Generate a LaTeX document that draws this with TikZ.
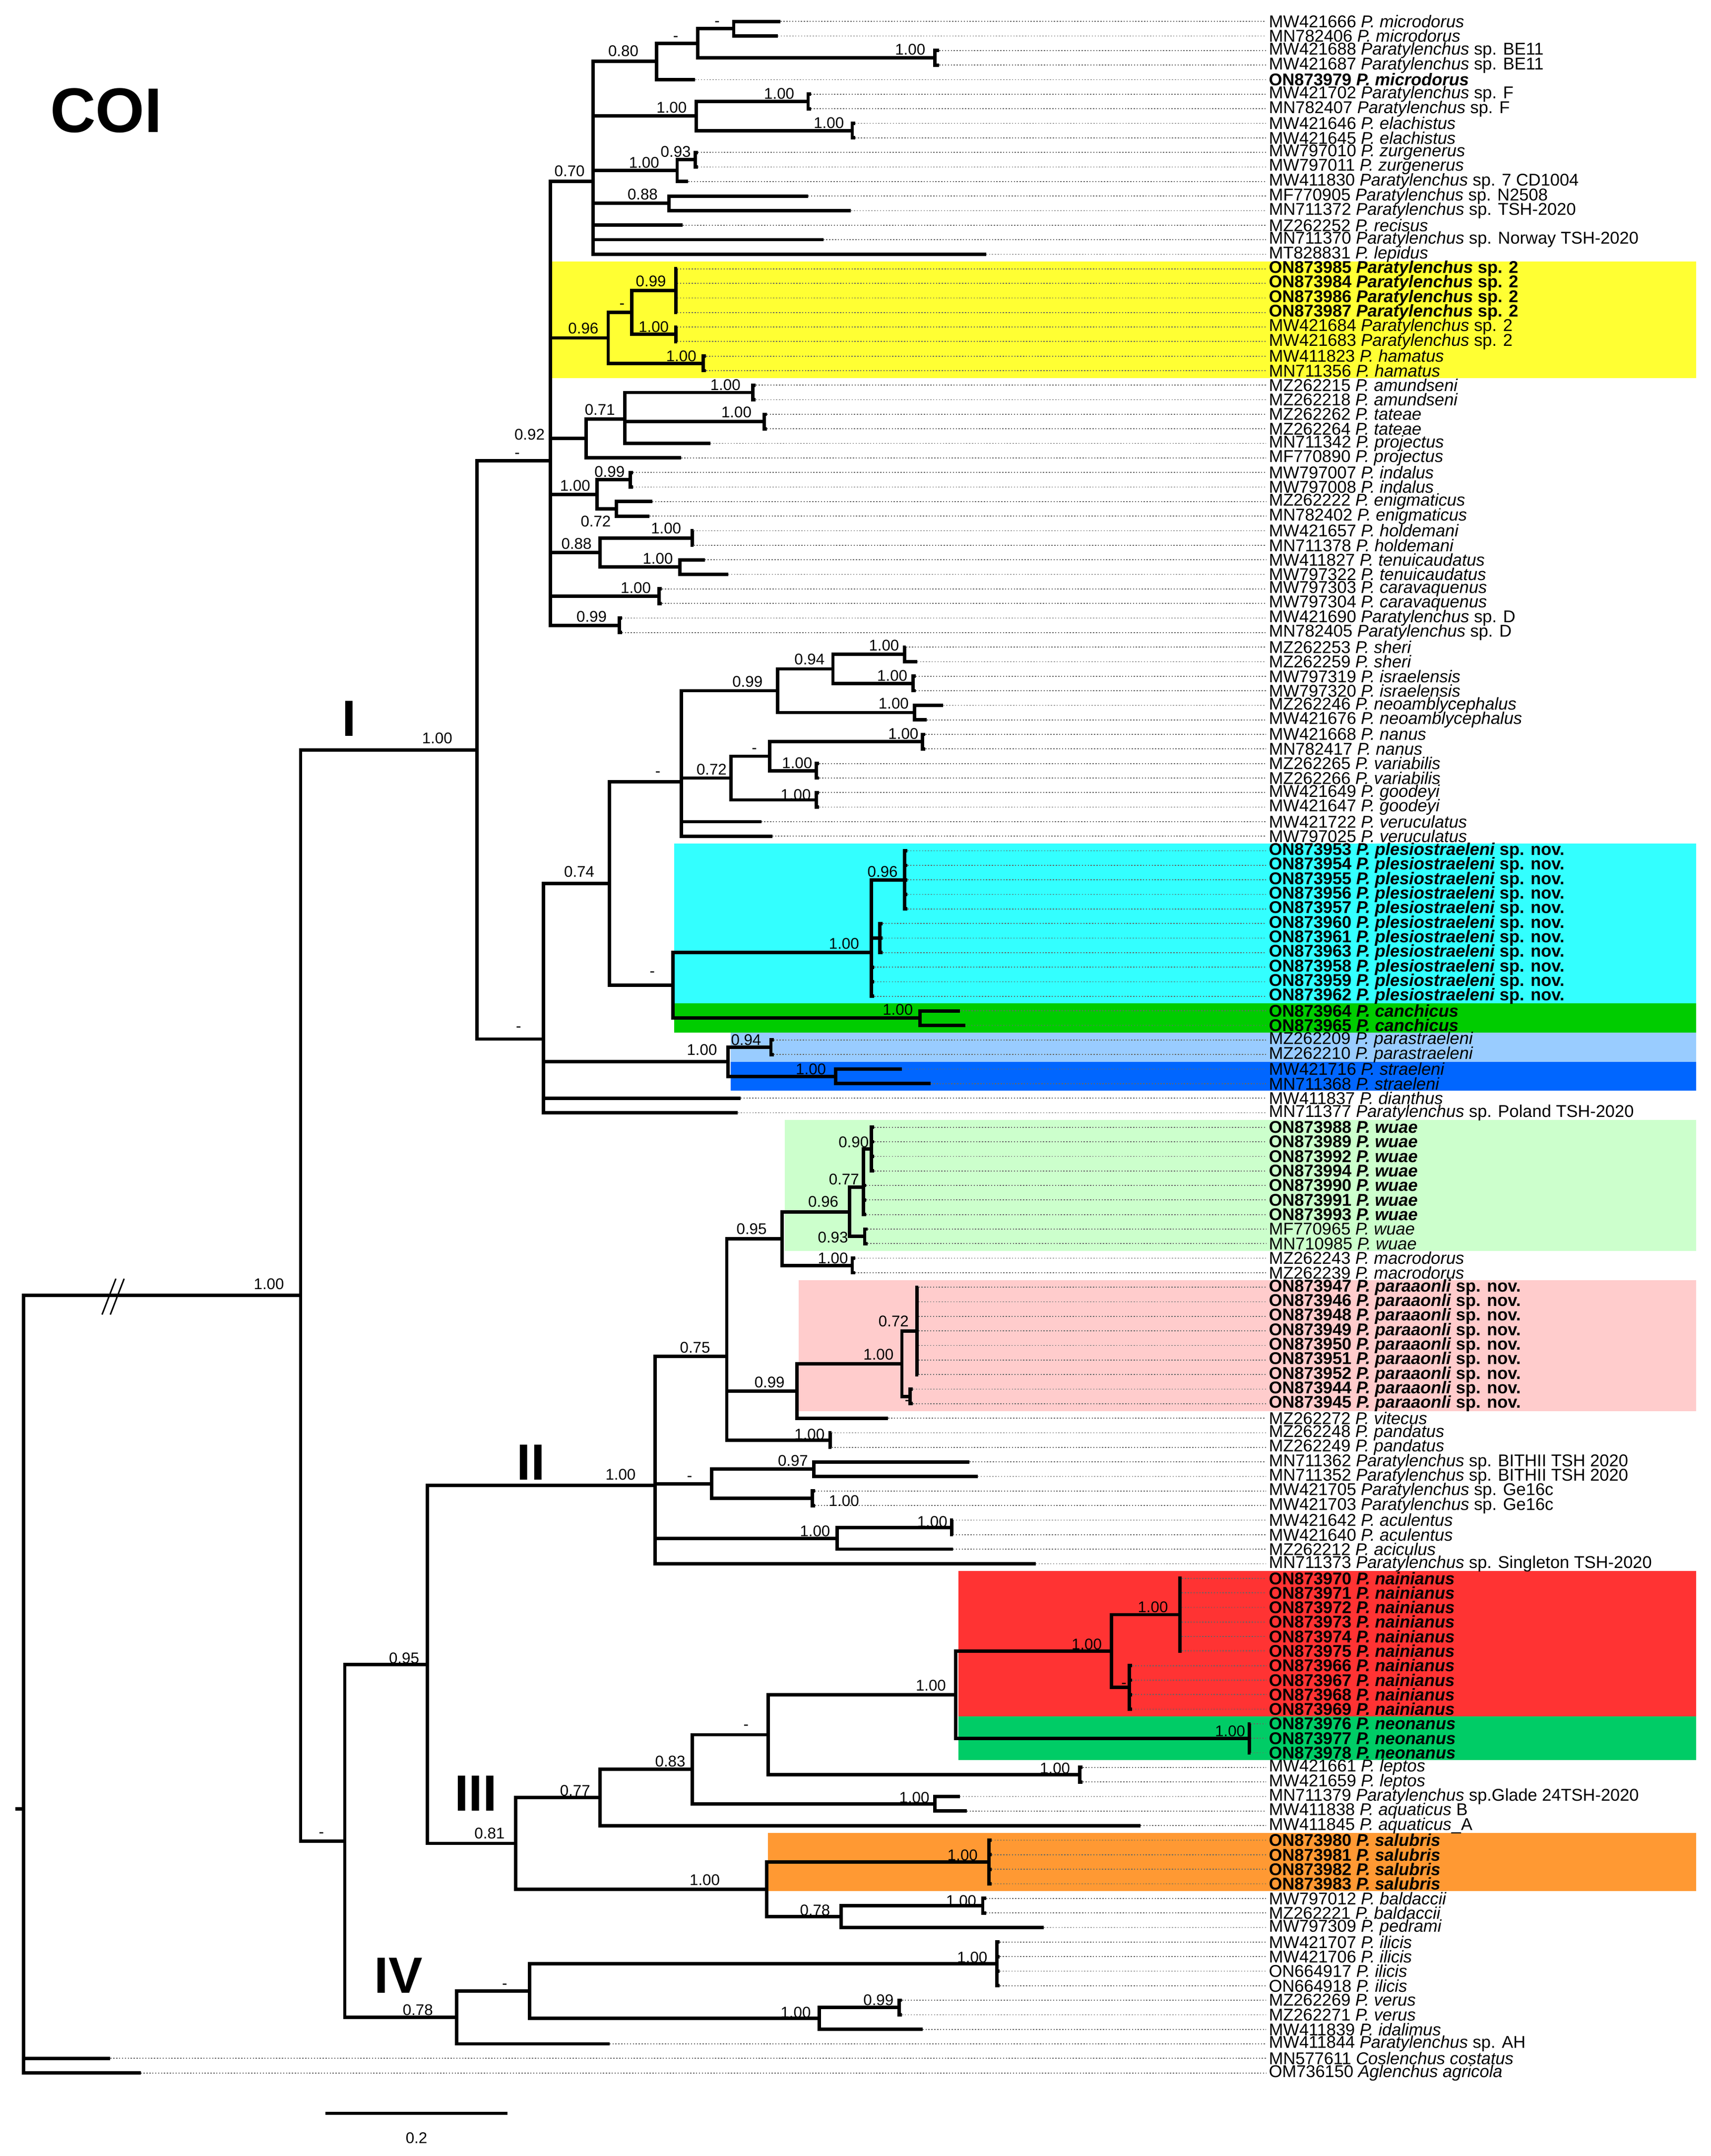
\documentclass[tikz,border=0pt]{standalone}
\usepackage{fontspec}
\setmainfont{Liberation Sans}
\begin{document}
\newcommand\Pn[1]{\textit{P. #1}}
\newcommand\Pt{\textit{Paratylenchus}}
\begin{tikzpicture}[x=0.02cm,y=-0.02cm,
  br/.style={line width=1.4pt,line join=miter},
  dot/.style={line width=0.35pt,gray!80!black,dash pattern=on 0.5pt off 0.7pt},
  lab/.style={anchor=west,inner sep=1pt,font=\fontsize{7.05}{7}\selectfont},
  sv/.style={inner sep=0pt,font=\fontsize{6.4}{7}\selectfont},
  big/.style={inner sep=0pt,font=\fontsize{21}{22}\selectfont\bfseries}]
\useasboundingbox (0,0) rectangle (1240.5,1563);
\newcommand\lf[3]{\coordinate (t#1) at (#2,#1); \node[lab] (l#1) at (918,#1) {#3}; \draw[dot] (t#1) -- (l#1.west);}
\newcommand\nd[3]{\coordinate (#1) at (#2,#3);}
\newcommand\ch[2]{\foreach \c in {#2} {\draw[br] (#1) |- (\c);}}
\newcommand\bx[4]{\fill[#4] (#1,#2-0.5) rectangle (1230,#3+0.5);}
\definecolor{cY}{HTML}{FFFF33}\definecolor{cC}{HTML}{33FFFF}\definecolor{cG}{HTML}{00CC00}
\definecolor{cLB}{HTML}{99CCFF}\definecolor{cB}{HTML}{0066FF}\definecolor{cLG}{HTML}{CCFFCC}
\definecolor{cP}{HTML}{FFCCCC}\definecolor{cR}{HTML}{FF3333}\definecolor{cN}{HTML}{00CC66}
\definecolor{cO}{HTML}{FF9933}
\begin{scope}[y=-0.2110cm,yshift=-0.1000cm]
\bx{400}{18}{25}{cY}
\bx{489}{58}{68}{cC}
\bx{489}{69}{70}{cG}
\bx{530}{71}{72}{cLB}
\bx{530}{73}{74}{cB}
\bx{569}{77}{85}{cLG}
\bx{579}{88}{96}{cP}
\bx{695}{108}{117}{cR}
\bx{695}{118}{120}{cN}
\bx{557}{126}{129}{cO}
% leaves
\lf{1}{566}{MW421666 \Pn{microdorus}}
\lf{2}{564}{MN782406 \Pn{microdorus}}
\lf{3}{681}{MW421688 \Pt{} sp. BE11}
\lf{4}{681}{MW421687 \Pt{} sp. BE11}
\lf{5}{504}{\textbf{ON873979 \Pn{microdorus}}}
\lf{6}{588}{MW421702 \Pt{} sp. F}
\lf{7}{588}{MN782407 \Pt{} sp. F}
\lf{8}{620}{MW421646 \Pn{elachistus}}
\lf{9}{620}{MW421645 \Pn{elachistus}}
\lf{10}{506}{MW797010 \Pn{zurgenerus}}
\lf{11}{506}{MW797011 \Pn{zurgenerus}}
\lf{12}{499}{MW411830 \Pt{} sp. 7 CD1004}
\lf{13}{586}{MF770905 \Pt{} sp. N2508}
\lf{14}{617}{MN711372 \Pt{} sp. TSH-2020}
\lf{15}{495}{MZ262252 \Pn{recisus}}
\lf{16}{597}{MN711370 \Pt{} sp. Norway TSH-2020}
\lf{17}{715}{MT828831 \Pn{lepidus}}
\lf{18}{491}{\textbf{ON873985 \Pt{} sp. 2}}
\lf{19}{491}{\textbf{ON873984 \Pt{} sp. 2}}
\lf{20}{491}{\textbf{ON873986 \Pt{} sp. 2}}
\lf{21}{491}{\textbf{ON873987 \Pt{} sp. 2}}
\lf{22}{491}{MW421684 \Pt{} sp. 2}
\lf{23}{491}{MW421683 \Pt{} sp. 2}
\lf{24}{512}{MW411823 \Pn{hamatus}}
\lf{25}{512}{MN711356 \Pn{hamatus}}
\lf{26}{548}{MZ262215 \Pn{amundseni}}
\lf{27}{548}{MZ262218 \Pn{amundseni}}
\lf{28}{556}{MZ262262 \Pn{tateae}}
\lf{29}{556}{MZ262264 \Pn{tateae}}
\lf{30}{515}{MN711342 \Pn{projectus}}
\lf{31}{494}{MF770890 \Pn{projectus}}
\lf{32}{459}{MW797007 \Pn{indalus}}
\lf{33}{459}{MW797008 \Pn{indalus}}
\lf{34}{473}{MZ262222 \Pn{enigmaticus}}
\lf{35}{471}{MN782402 \Pn{enigmaticus}}
\lf{36}{503}{MW421657 \Pn{holdemani}}
\lf{37}{503}{MN711378 \Pn{holdemani}}
\lf{38}{511}{MW411827 \Pn{tenuicaudatus}}
\lf{39}{528}{MW797322 \Pn{tenuicaudatus}}
\lf{40}{480}{MW797303 \Pn{caravaquenus}}
\lf{41}{480}{MW797304 \Pn{caravaquenus}}
\lf{42}{451}{MW421690 \Pt{} sp. D}
\lf{43}{451}{MN782405 \Pt{} sp. D}
\lf{44}{657}{MZ262253 \Pn{sheri}}
\lf{45}{665}{MZ262259 \Pn{sheri}}
\lf{46}{664}{MW797319 \Pn{israelensis}}
\lf{47}{664}{MW797320 \Pn{israelensis}}
\lf{48}{684}{MZ262246 \Pn{neoamblycephalus}}
\lf{49}{672}{MW421676 \Pn{neoamblycephalus}}
\lf{50}{671}{MW421668 \Pn{nanus}}
\lf{51}{671}{MN782417 \Pn{nanus}}
\lf{52}{594}{MZ262265 \Pn{variabilis}}
\lf{53}{594}{MZ262266 \Pn{variabilis}}
\lf{54}{594}{MW421649 \Pn{goodeyi}}
\lf{55}{594}{MW421647 \Pn{goodeyi}}
\lf{56}{552}{MW421722 \Pn{veruculatus}}
\lf{57}{560}{MW797025 \Pn{veruculatus}}
\lf{58}{658}{\textbf{ON873953 \Pn{plesiostraeleni} sp. nov.}}
\lf{59}{658}{\textbf{ON873954 \Pn{plesiostraeleni} sp. nov.}}
\lf{60}{658}{\textbf{ON873955 \Pn{plesiostraeleni} sp. nov.}}
\lf{61}{658}{\textbf{ON873956 \Pn{plesiostraeleni} sp. nov.}}
\lf{62}{658}{\textbf{ON873957 \Pn{plesiostraeleni} sp. nov.}}
\lf{63}{640}{\textbf{ON873960 \Pn{plesiostraeleni} sp. nov.}}
\lf{64}{640}{\textbf{ON873961 \Pn{plesiostraeleni} sp. nov.}}
\lf{65}{640}{\textbf{ON873963 \Pn{plesiostraeleni} sp. nov.}}
\lf{66}{634}{\textbf{ON873958 \Pn{plesiostraeleni} sp. nov.}}
\lf{67}{634}{\textbf{ON873959 \Pn{plesiostraeleni} sp. nov.}}
\lf{68}{634}{\textbf{ON873962 \Pn{plesiostraeleni} sp. nov.}}
\lf{69}{696}{\textbf{ON873964 \Pn{canchicus}}}
\lf{70}{700}{\textbf{ON873965 \Pn{canchicus}}}
\lf{71}{561}{MZ262209 \Pn{parastraeleni}}
\lf{72}{561}{MZ262210 \Pn{parastraeleni}}
\lf{73}{654}{MW421716 \Pn{straeleni}}
\lf{74}{675}{MN711368 \Pn{straeleni}}
\lf{75}{537}{MW411837 \Pn{dianthus}}
\lf{76}{535}{MN711377 \Pt{} sp. Poland TSH-2020}
\lf{77}{634}{\textbf{ON873988 \Pn{wuae}}}
\lf{78}{634}{\textbf{ON873989 \Pn{wuae}}}
\lf{79}{634}{\textbf{ON873992 \Pn{wuae}}}
\lf{80}{634}{\textbf{ON873994 \Pn{wuae}}}
\lf{81}{628}{\textbf{ON873990 \Pn{wuae}}}
\lf{82}{628}{\textbf{ON873991 \Pn{wuae}}}
\lf{83}{628}{\textbf{ON873993 \Pn{wuae}}}
\lf{84}{629}{MF770965 \Pn{wuae}}
\lf{85}{629}{MN710985 \Pn{wuae}}
\lf{86}{620}{MZ262243 \Pn{macrodorus}}
\lf{87}{620}{MZ262239 \Pn{macrodorus}}
\lf{88}{666}{\textbf{ON873947 \Pn{paraaonli} sp. nov.}}
\lf{89}{666}{\textbf{ON873946 \Pn{paraaonli} sp. nov.}}
\lf{90}{666}{\textbf{ON873948 \Pn{paraaonli} sp. nov.}}
\lf{91}{666}{\textbf{ON873949 \Pn{paraaonli} sp. nov.}}
\lf{92}{666}{\textbf{ON873950 \Pn{paraaonli} sp. nov.}}
\lf{93}{666}{\textbf{ON873951 \Pn{paraaonli} sp. nov.}}
\lf{94}{666}{\textbf{ON873952 \Pn{paraaonli} sp. nov.}}
\lf{95}{662}{\textbf{ON873944 \Pn{paraaonli} sp. nov.}}
\lf{96}{662}{\textbf{ON873945 \Pn{paraaonli} sp. nov.}}
\lf{97}{644}{MZ262272 \Pn{vitecus}}
\lf{98}{603}{MZ262248 \Pn{pandatus}}
\lf{99}{603}{MZ262249 \Pn{pandatus}}
\lf{100}{703}{MN711362 \Pt{} sp. BITHII TSH 2020}
\lf{101}{709}{MN711352 \Pt{} sp. BITHII TSH 2020}
\lf{102}{591}{MW421705 \Pt{} sp. Ge16c}
\lf{103}{591}{MW421703 \Pt{} sp. Ge16c}
\lf{104}{691}{MW421642 \Pn{aculentus}}
\lf{105}{691}{MW421640 \Pn{aculentus}}
\lf{106}{691}{MZ262212 \Pn{aciculus}}
\lf{107}{751}{MN711373 \Pt{} sp. Singleton TSH-2020}
\lf{108}{857}{\textbf{ON873970 \Pn{nainianus}}}
\lf{109}{857}{\textbf{ON873971 \Pn{nainianus}}}
\lf{110}{857}{\textbf{ON873972 \Pn{nainianus}}}
\lf{111}{857}{\textbf{ON873973 \Pn{nainianus}}}
\lf{112}{857}{\textbf{ON873974 \Pn{nainianus}}}
\lf{113}{857}{\textbf{ON873975 \Pn{nainianus}}}
\lf{114}{821}{\textbf{ON873966 \Pn{nainianus}}}
\lf{115}{821}{\textbf{ON873967 \Pn{nainianus}}}
\lf{116}{821}{\textbf{ON873968 \Pn{nainianus}}}
\lf{117}{821}{\textbf{ON873969 \Pn{nainianus}}}
\lf{118}{907}{\textbf{ON873976 \Pn{neonanus}}}
\lf{119}{907}{\textbf{ON873977 \Pn{neonanus}}}
\lf{120}{907}{\textbf{ON873978 \Pn{neonanus}}}
\lf{121}{785}{MW421661 \Pn{leptos}}
\lf{122}{785}{MW421659 \Pn{leptos}}
\lf{123}{696}{MN711379 \Pt{} sp.Glade 24TSH-2020}
\lf{124}{701}{MW411838 \Pn{aquaticus} B}
\lf{125}{827}{MW411845 \Pn{aquaticus}\_A}
\lf{126}{719}{\textbf{ON873980 \Pn{salubris}}}
\lf{127}{719}{\textbf{ON873981 \Pn{salubris}}}
\lf{128}{719}{\textbf{ON873982 \Pn{salubris}}}
\lf{129}{719}{\textbf{ON873983 \Pn{salubris}}}
\lf{130}{715}{MW797012 \Pn{baldaccii}}
\lf{131}{715}{MZ262221 \Pn{baldaccii}}
\lf{132}{757}{MW797309 \Pn{pedrami}}
\lf{133}{725}{MW421707 \Pn{ilicis}}
\lf{134}{725}{MW421706 \Pn{ilicis}}
\lf{135}{725}{ON664917 \Pn{ilicis}}
\lf{136}{725}{ON664918 \Pn{ilicis}}
\lf{137}{654}{MZ262269 \Pn{verus}}
\lf{138}{654}{MZ262271 \Pn{verus}}
\lf{139}{669}{MW411839 \Pn{idalimus}}
\lf{140}{442}{MW411844 \Pt{} sp. AH}
\lf{141}{80}{MN577611 \textit{Coslenchus costatus}}
\lf{142}{102}{OM736150 \textit{Aglenchus agricola}}
% internal nodes
\nd{nH}{532}{1.5}\nd{nBE}{678}{3.5}\nd{nG}{506}{2.5}\nd{nC}{476}{3.75}
\nd{nSpF}{586}{6.5}\nd{nEl}{618}{8.5}\nd{nD}{505}{7.5}
\nd{nZu}{504}{10.5}\nd{nE}{491}{11.25}\nd{nF}{485}{13.5}\nd{nB}{430}{12}
\nd{nY99}{490}{19.5}\nd{nY100}{490}{22.5}\nd{nYd}{458}{21}\nd{nHa}{510}{24.5}\nd{nYel}{441}{22.75}
\nd{nAm}{546}{26.5}\nd{nTa}{554}{28.5}\nd{nJ}{453}{28.333}\nd{nI}{425}{29.667}
\nd{nIn}{457}{32.5}\nd{nEn}{447}{34.5}\nd{nK}{433}{33.5}
\nd{nHo}{502}{36.5}\nd{nTe}{493}{38.5}\nd{nL}{435}{37.5}
\nd{nCa}{478}{40.5}\nd{nSD}{449}{42.5}\nd{nA}{399}{31.202}
\nd{nSh}{656}{44.5}\nd{nIs}{662}{46.5}\nd{nS}{604}{45.5}\nd{nT}{663}{48.5}\nd{nQ}{564}{47}
\nd{nNa}{669}{50.5}\nd{nVa}{592}{52.5}\nd{nU}{558}{51.5}\nd{nGo}{592}{54.5}\nd{nR}{530}{53}
\nd{nO}{494}{53.25}
\nd{nW}{656}{60}\nd{nX}{638}{64}\nd{nV}{632}{65}\nd{nCn}{667}{69.5}\nd{nP}{488}{67.25}
\nd{nN}{442}{60.25}\nd{nPa}{559}{71.5}\nd{nSt}{606}{73.5}\nd{nZ}{528}{72.5}
\nd{nM}{394}{70.9375}\nd{nCI}{346}{51.07}
\nd{nW90}{632}{78.5}\nd{nW77}{626}{81.125}\nd{nW93}{627}{84.5}\nd{nW96}{616}{82.8125}
\nd{nMa}{618}{86.5}\nd{nW95}{567}{84.656}
\nd{nP72}{665}{91}\nd{nPd}{660}{95.5}\nd{nP100}{654}{93.25}\nd{nP99}{578}{95.125}
\nd{nPn}{602}{98.5}\nd{nN75}{527}{92.76}
\nd{nBi}{590}{100.5}\nd{nGe}{589}{102.5}\nd{nDd}{516}{101.5}
\nd{nAc}{690}{104.5}\nd{nAA}{607}{105.25}\nd{nCII}{475}{101.6275}
\nd{nNs}{855.5}{110.5}\nd{nNd}{819}{115.5}\nd{nN100}{806}{113}\nd{nNe}{906}{119}
\nd{nNN}{693}{116}\nd{nLe}{783}{121.5}\nd{nDm}{557}{118.75}\nd{nAq}{678}{123.5}
\nd{nC83}{502}{121.125}\nd{nC77}{435}{123.0625}
\nd{nSa}{717}{127.5}\nd{nBal}{712.6}{130.5}\nd{nB78}{610}{131.25}\nd{nSG}{556}{129.375}
\nd{nCIII}{374}{126.21875}\nd{nC23}{310}{113.923}
\nd{nIl}{723}{134.5}\nd{nVp}{652}{137.5}\nd{nVg}{594}{138.25}\nd{nDash}{384}{136.375}
\nd{nCIV}{331}{138.1875}\nd{nN250}{250}{126.055}\nd{nIng}{218}{88.5625}
\nd{nRoot}{17}{123.854}\nd{nStub}{11}{123.854}
% edges
\ch{nH}{t1,t2}\ch{nBE}{t3,t4}\ch{nG}{nH,nBE}\ch{nC}{nG,t5}
\ch{nSpF}{t6,t7}\ch{nEl}{t8,t9}\ch{nD}{nSpF,nEl}
\ch{nZu}{t10,t11}\ch{nE}{nZu,t12}\ch{nF}{t13,t14}
\ch{nB}{nC,nD,nE,nF,t15,t16,t17}
\ch{nY99}{t18,t19,t20,t21}\ch{nY100}{t22,t23}\ch{nYd}{nY99,nY100}\ch{nHa}{t24,t25}\ch{nYel}{nYd,nHa}
\ch{nAm}{t26,t27}\ch{nTa}{t28,t29}\ch{nJ}{nAm,nTa,t30}\ch{nI}{nJ,t31}
\ch{nIn}{t32,t33}\ch{nEn}{t34,t35}\ch{nK}{nIn,nEn}
\ch{nHo}{t36,t37}\ch{nTe}{t38,t39}\ch{nL}{nHo,nTe}
\ch{nCa}{t40,t41}\ch{nSD}{t42,t43}
\ch{nA}{nB,nYel,nI,nK,nL,nCa,nSD}
\ch{nSh}{t44,t45}\ch{nIs}{t46,t47}\ch{nS}{nSh,nIs}\ch{nT}{t48,t49}\ch{nQ}{nS,nT}
\ch{nNa}{t50,t51}\ch{nVa}{t52,t53}\ch{nU}{nNa,nVa}\ch{nGo}{t54,t55}\ch{nR}{nU,nGo}
\ch{nO}{nQ,nR,t56,t57}
\ch{nW}{t58,t59,t60,t61,t62}\ch{nX}{t63,t64,t65}\ch{nV}{nW,nX,t66,t67,t68}
\ch{nCn}{t69,t70}\ch{nP}{nV,nCn}\ch{nN}{nO,nP}
\ch{nPa}{t71,t72}\ch{nSt}{t73,t74}\ch{nZ}{nPa,nSt}
\ch{nM}{nN,nZ,t75,t76}\ch{nCI}{nA,nM}
\ch{nW90}{t77,t78,t79,t80}\ch{nW77}{nW90,t81,t82,t83}\ch{nW93}{t84,t85}\ch{nW96}{nW77,nW93}
\ch{nMa}{t86,t87}\ch{nW95}{nW96,nMa}
\ch{nP72}{t88,t89,t90,t91,t92,t93,t94}\ch{nPd}{t95,t96}\ch{nP100}{nP72,nPd}\ch{nP99}{nP100,t97}
\ch{nPn}{t98,t99}\ch{nN75}{nW95,nP99,nPn}
\ch{nBi}{t100,t101}\ch{nGe}{t102,t103}\ch{nDd}{nBi,nGe}
\ch{nAc}{t104,t105}\ch{nAA}{nAc,t106}\ch{nCII}{nN75,nDd,nAA,t107}
\ch{nNs}{t108,t109,t110,t111,t112,t113}\ch{nNd}{t114,t115,t116,t117}\ch{nN100}{nNs,nNd}
\ch{nNe}{t118,t119,t120}\ch{nNN}{nN100,nNe}\ch{nLe}{t121,t122}\ch{nDm}{nNN,nLe}
\ch{nAq}{t123,t124}\ch{nC83}{nDm,nAq}\ch{nC77}{nC83,t125}
\ch{nSa}{t126,t127,t128,t129}\ch{nBal}{t130,t131}\ch{nB78}{nBal,t132}\ch{nSG}{nSa,nB78}
\ch{nCIII}{nC77,nSG}\ch{nC23}{nCII,nCIII}
\ch{nIl}{t133,t134,t135,t136}\ch{nVp}{t137,t138}\ch{nVg}{nVp,t139}\ch{nDash}{nIl,nVg}
\ch{nCIV}{nDash,t140}\ch{nN250}{nC23,nCIV}\ch{nIng}{nCI,nN250}
\ch{nRoot}{nIng,t141,t142}
\draw[br] (nStub) -- (nRoot);
\end{scope}
% break marks
\draw[line width=0.6pt] (74,953) -- (84,927) (80,953) -- (90,927);
% support values
\foreach \t/\x/\y in {-/520/17,-/490/28,0.80/452/37,1.00/660/36,1.00/565/68,1.00/487/78,1.00/601/89,0.93/490/110,1.00/467/118,0.88/466/141,0.70/413/124,
0.99/472/204,-/451/222,1.00/474/237,0.96/423/238,1.00/494/258,
1.00/526/279,0.71/435/297,1.00/534/299,0.92/384/315,-/375/330,0.99/442/342,1.00/417/352,0.72/432/378,1.00/483/383,0.88/418/394,1.00/477/405,1.00/461/426,0.99/429/447,
1.00/317/535,1.00/641/468,0.94/587/478,0.99/542/494,1.00/647/490,1.00/648/510,1.00/655/532,-/547/544,0.72/516/558,1.00/578/553,1.00/577/576,-/477/561,0.74/420/632,
0.96/640/632,1.00/612/684,-/473/706,1.00/651/732,-/376/746,0.94/541/754,1.00/509/761,1.00/588/775,
0.90/619/828,0.77/612/855,0.96/597/871,0.93/604/897,1.00/604/912,0.95/545/891,0.72/648/958,1.00/637/982,0.75/504/977,0.99/558/1002,-/658/1017,1.00/587/1040,1.00/450/1069,-/500/1072,0.97/575/1059,1.00/612/1088,1.00/591/1110,1.00/676/1103,
1.00/195/931,0.95/293/1202,1.00/836/1165,1.00/788/1192,-/815/1222,1.00/675/1222,1.00/892/1255,-/541/1252,1.00/765/1282,0.83/486/1277,1.00/663/1303,0.77/417/1298,0.81/355/1329,-/233/1330,
1.00/698/1345,1.00/511/1363,0.78/591/1385,1.00/697/1378,1.00/705/1419,-/366/1440,0.99/637/1450,1.00/577/1459,0.78/303/1457}
  \node[sv] at (\x,\y) {\t};
\node[big] (cI) at (253,521) {I};
\node[big] (cII) at (385,1060) {II};
\node[big] (cIII) at (345,1300) {III};
\node[big] (cIV) at (289,1432) {IV};
\node[inner sep=0pt,font=\fontsize{26}{28}\selectfont\bfseries] (coi) at (77,80) {COI};
\coordinate (sb1) at (236,1532); \coordinate (sb2) at (368,1532);
\draw[line width=1.2pt] (sb1) -- (sb2);
\node[sv] (sbl) at (302,1550) {0.2};
\end{tikzpicture}
\end{document}
